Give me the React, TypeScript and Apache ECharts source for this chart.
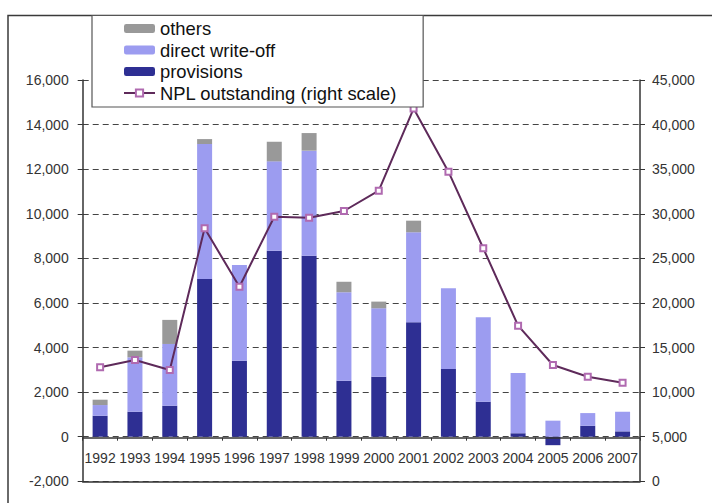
import React, { useEffect, useRef } from "react";
import * as echarts from "echarts";

// Fiscal years on the category axis
const years = [
  "1992", "1993", "1994", "1995", "1996", "1997", "1998", "1999",
  "2000", "2001", "2002", "2003", "2004", "2005", "2006", "2007",
];

// Disposal of non-performing loans (left scale), stacked
const provisions = [940, 1120, 1390, 7070, 3410, 8340, 8120, 2510, 2690, 5130, 3040, 1570, 150, -380, 490, 240];
const directWriteOff = [480, 2440, 2770, 6060, 4290, 4010, 4710, 3970, 3070, 4040, 3620, 3790, 2710, 720, 570, 880];
const others = [240, 300, 1080, 220, 0, 880, 790, 470, 300, 520, 0, 0, 0, 0, 0, 0];

// NPL outstanding (right scale)
const nplOutstanding = [12780, 13600, 12480, 28370, 21820, 29670, 29560, 30310, 32590, 41800, 34720, 26130, 17450, 13040, 11730, 11060];

const FONT = "'Liberation Sans', Arial, Helvetica, sans-serif";
const fmt = (v: number) => v.toLocaleString("en-US");

// plot area (px)
const PLOT_LEFT = 82.7;
const PLOT_RIGHT = 72;
const PLOT_TOP = 80;
const PLOT_BOTTOM = 21.7;
// the year axis sits on the zero line of the left scale
const ZERO_FROM_BOTTOM = 65.3;

export default function App() {
  const ref = useRef<HTMLDivElement>(null);

  useEffect(() => {
    if (!ref.current) return;
    const chart = echarts.init(ref.current, undefined, { renderer: "svg" });

    chart.setOption({
      animation: false,
      backgroundColor: "#ffffff",
      textStyle: { fontFamily: FONT },
      graphic: [
        {
          type: "rect",
          silent: true,
          z: 0,
          shape: { x: 8, y: 15.5, width: 720, height: 500 },
          style: { fill: "none", stroke: "#3a3a3a", lineWidth: 1.5 },
        },
      ],
      legend: {
        orient: "vertical",
        left: 92,
        top: 15.5,
        padding: [4, 26, 5, 31],
        itemWidth: 31,
        itemHeight: 9,
        itemGap: 3.5,
        backgroundColor: "#ffffff",
        borderColor: "#555555",
        borderWidth: 1.2,
        z: 10,
        textStyle: { fontSize: 18.4, color: "#111111", fontFamily: FONT },
        data: ["others", "direct write-off", "provisions", "NPL outstanding (right scale)"],
      },
      grid: [
        {
          left: PLOT_LEFT, right: PLOT_RIGHT, top: PLOT_TOP, bottom: PLOT_BOTTOM,
          containLabel: false, outerBoundsMode: "none",
        },
        {
          left: PLOT_LEFT, right: PLOT_RIGHT, top: PLOT_TOP, bottom: ZERO_FROM_BOTTOM,
          containLabel: false, outerBoundsMode: "none",
        },
      ],
      xAxis: [
        {
          // lower frame of the plot area
          type: "category",
          gridIndex: 0,
          data: years,
          position: "bottom",
          axisLine: { onZero: false, lineStyle: { color: "#333333", width: 1.5 } },
          axisTick: { show: false },
          axisLabel: { show: false },
          splitLine: { show: false },
        },
        {
          // year axis on the zero line
          type: "category",
          gridIndex: 1,
          data: years,
          position: "bottom",
          axisLine: { onZero: false, lineStyle: { color: "#333333", width: 1.5 } },
          axisTick: { show: true, length: 3, lineStyle: { color: "#333333" } },
          axisLabel: { interval: 0, margin: 13, fontSize: 14, color: "#333333", fontFamily: FONT },
          splitLine: { show: false },
          z: 3,
        },
      ],
      yAxis: [
        {
          type: "value",
          gridIndex: 0,
          min: -2000,
          max: 16000,
          interval: 2000,
          axisLine: { show: true, lineStyle: { color: "#333333", width: 1.5 } },
          axisTick: { show: true, length: 5, lineStyle: { color: "#333333" } },
          axisLabel: { margin: 14, fontSize: 14, color: "#333333", fontFamily: FONT, formatter: fmt },
          splitLine: { show: true, lineStyle: { color: "#444444", width: 1.2, type: [6, 4] } },
        },
        {
          type: "value",
          gridIndex: 0,
          min: 0,
          max: 45000,
          interval: 5000,
          position: "right",
          axisLine: { show: true, lineStyle: { color: "#333333", width: 1.5 } },
          axisTick: { show: true, length: 5, lineStyle: { color: "#333333" } },
          axisLabel: { margin: 12, fontSize: 14, color: "#333333", fontFamily: FONT, formatter: fmt },
          splitLine: { show: false },
        },
        {
          type: "value",
          gridIndex: 1,
          min: 0,
          max: 16000,
          show: false,
        },
      ],
      series: [
        {
          name: "provisions",
          type: "bar",
          stack: "disposal",
          barWidth: 15,
          data: provisions,
          itemStyle: { color: "#2e2f93" },
        },
        {
          name: "direct write-off",
          type: "bar",
          stack: "disposal",
          barWidth: 15,
          data: directWriteOff,
          itemStyle: { color: "#9c9cf0" },
        },
        {
          name: "others",
          type: "bar",
          stack: "disposal",
          barWidth: 15,
          data: others,
          itemStyle: { color: "#999999" },
        },
        {
          name: "NPL outstanding (right scale)",
          type: "line",
          yAxisIndex: 1,
          data: nplOutstanding,
          symbol: "emptyRect",
          symbolSize: 6,
          z: 5,
          lineStyle: { color: "#5e2a5a", width: 2 },
          itemStyle: { color: "#b06ab0", borderWidth: 1.2 },
        },
      ],
    });

    return () => chart.dispose();
  }, []);

  return (
    <div
      ref={ref}
      style={{ position: "fixed", left: 0, top: 0, width: 712, height: 503, background: "#fff" }}
    />
  );
}
